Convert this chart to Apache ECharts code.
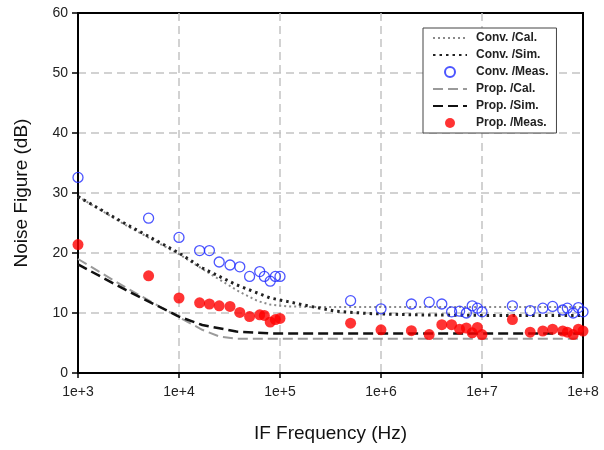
<!DOCTYPE html>
<html lang="en">
<head>
    <meta charset="UTF-8">
    <title>Noise Figure</title>
    <script src="https://cdn.jsdelivr.net/npm/echarts@6/dist/echarts.min.js"></script>
</head>
<body style="margin:0">
<div id="main" style="width: 604px; height: 450px"></div>
<script type="text/javascript">
    // measured points
    var measFreq = [1e3, 5e3, 1e4, 1.6e4, 2e4, 2.5e4, 3.2e4, 4e4, 5e4, 6.3e4, 7e4, 8e4, 9e4, 1e5,
        5e5, 1e6, 2e6, 3e6, 4e6, 5e6, 6e6, 7e6, 8e6, 9e6, 1e7,
        2e7, 3e7, 4e7, 5e7, 6.3e7, 7e7, 8e7, 9e7, 1e8];
    var convMeas = [32.6, 25.8, 22.6, 20.4, 20.4, 18.5, 18.0, 17.7, 16.1, 16.9, 16.1, 15.3, 16.1, 16.1,
        12.05, 10.7, 11.5, 11.8, 11.5, 10.2, 10.3, 10.0, 11.2, 10.8, 10.2,
        11.2, 10.4, 10.8, 11.1, 10.5, 10.8, 10.0, 10.9, 10.2];
    var propMeas = [21.4, 16.2, 12.5, 11.7, 11.5, 11.2, 11.1, 10.1, 9.4, 9.7, 9.6, 8.5, 8.9, 9.1,
        8.3, 7.2, 7.05, 6.4, 8.05, 8.05, 7.3, 7.5, 6.7, 7.6, 6.4,
        8.9, 6.8, 7.0, 7.3, 7.0, 6.8, 6.4, 7.3, 7.0];

    // calculated / simulated curves
    var convCalFreq = [1e3, 3e3, 1e4, 2e4, 4e4, 6e4, 8e4, 1.2e5, 2e5, 1e6, 1e7, 1e8];
    var convCal = [29.4, 24.6, 19.8, 16.6, 13.5, 12.0, 11.4, 11.1, 11.0, 11.0, 11.0, 11.0];
    var convSimFreq = [1e3, 3e3, 1e4, 1.7e4, 3.7e4, 8e4, 1.2e5, 2e5, 3.6e5, 7.7e5, 2e6, 1e7, 1e8];
    var convSim = [29.4, 24.8, 20.0, 17.5, 14.7, 12.5, 11.9, 11.1, 10.3, 9.9, 9.7, 9.6, 9.6];
    var propCalFreq = [1e3, 3e3, 1e4, 1.7e4, 2.5e4, 3.7e4, 5e4, 1e8];
    var propCal = [19.0, 14.2, 9.3, 7.2, 6.1, 5.7, 5.7, 5.7];
    var propSimFreq = [1e3, 3e3, 1e4, 1.7e4, 3.7e4, 8e4, 1.5e5, 1e6, 1e8];
    var propSim = [18.1, 13.8, 9.4, 8.0, 6.9, 6.6, 6.6, 6.6, 6.6];

    function pairs(xs, ys) {
        return xs.map(function (x, i) { return [x, ys[i]]; });
    }

    var font = 'Liberation Sans, Arial, sans-serif';
    var noDot = {color: 'rgba(0,0,0,0)'};  // hides the symbol in legend icons of line series
    var myChart = echarts.init(document.getElementById('main'));
    var option = {
        animation: false,
        textStyle: {fontFamily: font},
        grid: {
            left: 78, right: 21, top: 13, bottom: 77,
            show: true, borderColor: '#000', borderWidth: 2
        },
        legend: {
            orient: 'vertical',
            left: 423, top: 28,
            padding: [4, 8, 4, 9],
            itemWidth: 34, itemHeight: 10, itemGap: 5,
            backgroundColor: '#fff',
            borderColor: '#444', borderWidth: 1,
            textStyle: {fontSize: 12, fontWeight: 'bold', color: '#222', padding: [0, 0, 0, 4]},
            data: ['Conv. /Cal.', 'Conv. /Sim.', 'Conv. /Meas.', 'Prop. /Cal.', 'Prop. /Sim.', 'Prop. /Meas.']
        },
        xAxis: {
            type: 'log', logBase: 10, min: 1e3, max: 1e8,
            name: 'IF Frequency (Hz)', nameLocation: 'middle', nameGap: 51,
            nameTextStyle: {fontSize: 19, color: '#111'},
            axisLine: {lineStyle: {color: '#000', width: 2}},
            axisTick: {length: 5, lineStyle: {color: '#000', width: 1.5}},
            axisLabel: {
                fontSize: 14, color: '#222', margin: 12,
                formatter: function (v) { return '1e+' + Math.round(Math.log10(v)); }
            },
            splitLine: {show: true, showMaxLine: false, lineStyle: {color: '#c4c4c4', width: 1.5, type: [8, 5]}}
        },
        yAxis: {
            type: 'value', min: 0, max: 60, interval: 10,
            name: 'Noise Figure (dB)', nameLocation: 'middle', nameGap: 47,
            nameTextStyle: {fontSize: 19, color: '#111'},
            axisLine: {show: true, lineStyle: {color: '#000', width: 2}},
            axisTick: {show: true, length: 6, lineStyle: {color: '#000', width: 1.5}},
            axisLabel: {fontSize: 14, color: '#222', margin: 10},
            splitLine: {show: true, showMaxLine: false, lineStyle: {color: '#c4c4c4', width: 1.5, type: [8, 5]}}
        },
        series: [
            {
                name: 'Conv. /Cal.', type: 'line', symbol: 'none', z: 2,
                data: pairs(convCalFreq, convCal), itemStyle: noDot,
                lineStyle: {color: '#8a8a8a', width: 2, type: [2, 3]}
            },
            {
                name: 'Conv. /Sim.', type: 'line', symbol: 'none', z: 2,
                data: pairs(convSimFreq, convSim), itemStyle: noDot,
                lineStyle: {color: '#222', width: 3, type: [2.5, 4]}
            },
            {
                name: 'Conv. /Meas.', type: 'scatter', symbol: 'circle', symbolSize: 10, z: 3,
                data: pairs(measFreq, convMeas),
                itemStyle: {color: 'rgba(255,255,255,0)', borderColor: '#1f2bff', borderWidth: 1.3}
            },
            {
                name: 'Prop. /Cal.', type: 'line', symbol: 'none', z: 2,
                data: pairs(propCalFreq, propCal), itemStyle: noDot,
                lineStyle: {color: '#9a9a9a', width: 2, type: [10, 5]}
            },
            {
                name: 'Prop. /Sim.', type: 'line', symbol: 'none', z: 2,
                data: pairs(propSimFreq, propSim), itemStyle: noDot,
                lineStyle: {color: '#111', width: 2.5, type: [10, 5]}
            },
            {
                name: 'Prop. /Meas.', type: 'scatter', symbol: 'circle', symbolSize: 11, z: 3,
                data: pairs(measFreq, propMeas),
                itemStyle: {color: '#ff0000'}
            }
        ]
    };
    myChart.setOption(option);
</script>
</body>
</html>
